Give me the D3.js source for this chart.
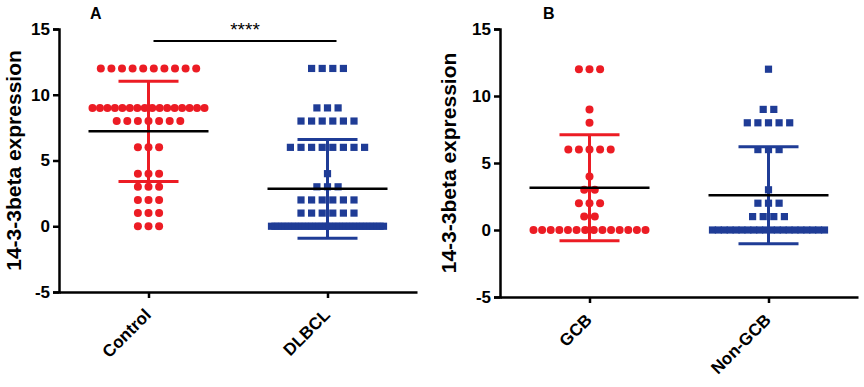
<!DOCTYPE html>
<html><head><meta charset="utf-8">
<script src="https://cdn.jsdelivr.net/npm/d3@7"></script>
<style>
body{margin:0;background:#fff;}
svg{display:block;font-family:"Liberation Sans",Arial,sans-serif;}
</style></head>
<body><svg id="c" width="864" height="387"></svg>
<script>
// ---- data (each row = value, count) ----
const yTicks = [15, 10, 5, 0, -5];
const yTitle = "14-3-3beta expression";
const panelA = ["Control", "DLBCL"];
const panelB = ["GCB", "Non-GCB"];
const controlRows = [[12,10],[9,16],[8,7],[6,3],[4,3],[3,3],[2,3],[1,3],[0,3]];
const dlbclRows   = [[12,4],[9,3],[8,6],[6,8],[4,1],[3,3],[2,6],[1,6],[0,34]];
const gcbRows     = [[12,3],[9,1],[8,1],[6,5],[4,1],[3,2],[2,3],[1,2],[0,14]];
const nonGcbRows  = [[12,1],[9,2],[8,5],[6,3],[3,1],[2,3],[1,4],[0,20]];
const sigLabel = "****";

const RED = "#ec1c24", BLUE = "#1f3c96";
const svg = d3.select("#c");

function expand(rows){ const v=[]; rows.forEach(([val,n])=>{for(let i=0;i<n;i++)v.push(val);}); return v; }

function panel(opt){
  const g = svg.append("g");
  const y = d3.scaleLinear().domain([-5,15]).range([opt.yBottom, opt.yTop]);
  const x = d3.scalePoint().domain(opt.cats).range([opt.x0, opt.x1]).padding(0.5);

  // y axis
  const ya = g.append("g").attr("transform",`translate(${opt.x0},0)`)
    .call(d3.axisLeft(y).tickValues(yTicks).tickSize(6).tickPadding(3).tickFormat(d=>String(d)));
  ya.select(".domain").attr("stroke","#000").attr("stroke-width",2.5);
  ya.selectAll(".tick line").attr("stroke","#000").attr("stroke-width",2.5);
  ya.selectAll(".tick text").attr("font-size",17).attr("font-weight","bold").attr("fill","#000")
    .attr("font-family","Liberation Sans, Arial, sans-serif");

  // x axis
  const xa = g.append("g").attr("transform",`translate(0,${opt.yBottom})`)
    .call(d3.axisBottom(x).tickSize(6).tickSizeOuter(0));
  xa.select(".domain").attr("stroke","#000").attr("stroke-width",2.5);
  xa.selectAll(".tick line").attr("stroke","#000").attr("stroke-width",2.5);
  xa.selectAll(".tick text").attr("font-size",17).attr("font-weight","bold").attr("fill","#000")
    .attr("font-family","Liberation Sans, Arial, sans-serif")
    .attr("text-anchor","end").attr("dy",0).attr("y",0)
    .attr("transform","translate(3,24) rotate(-45)");

  // y title
  g.append("text").attr("transform",`translate(${opt.titleX},${(opt.yTop+opt.yBottom)/2}) rotate(-90)`)
    .attr("text-anchor","middle").attr("font-size",21).attr("font-weight","bold").text(yTitle);

  // panel letter
  g.append("text").attr("x",opt.letterX).attr("y",19).attr("font-size",16).attr("font-weight","bold").text(opt.letter);

  // groups
  opt.series.forEach((rows,i)=>{
    const cx = x(opt.cats[i]);
    const color = i===0 ? RED : BLUE;
    const vals = expand(rows);
    const pts = [];
    rows.forEach(([val,n])=>{
      const step = n>1 ? Math.min(10.6, 112/(n-1)) : 0;
      for(let k=0;k<n;k++) pts.push({x: cx + (k-(n-1)/2)*step, y: y(val)});
    });
    if(i===0){
      g.append("g").selectAll("circle").data(pts).join("circle")
        .attr("cx",d=>d.x).attr("cy",d=>d.y).attr("r",4).attr("fill",color);
    } else {
      g.append("g").selectAll("rect").data(pts).join("rect")
        .attr("x",d=>d.x-3.6).attr("y",d=>d.y-3.6).attr("width",7.2).attr("height",7.2).attr("fill",color);
    }
    const m = d3.mean(vals), sd = d3.deviation(vals);
    const eb = g.append("g").attr("stroke",color).attr("stroke-width",3);
    eb.append("line").attr("x1",cx).attr("x2",cx).attr("y1",y(m+sd)).attr("y2",y(m-sd));
    eb.append("line").attr("x1",cx-30).attr("x2",cx+30).attr("y1",y(m+sd)).attr("y2",y(m+sd));
    eb.append("line").attr("x1",cx-30).attr("x2",cx+30).attr("y1",y(m-sd)).attr("y2",y(m-sd));
    g.append("line").attr("x1",cx-60).attr("x2",cx+60).attr("y1",y(m)).attr("y2",y(m))
      .attr("stroke","#000").attr("stroke-width",2.5);
  });

  if(opt.sig){
    const xa1 = x(opt.cats[0])+5, xa2 = x(opt.cats[1])+9;
    g.append("line").attr("x1",xa1).attr("x2",xa2).attr("y1",41).attr("y2",41).attr("stroke","#000").attr("stroke-width",2);
    g.append("text").attr("x",(xa1+xa2)/2).attr("y",36).attr("text-anchor","middle").attr("font-size",19).text(sigLabel);
  }
}

panel({cats: panelA, series:[controlRows, dlbclRows], x0:59, x1:417, yTop:29, yBottom:292,
       titleX:21, letter:"A", letterX:90, sig:true});
panel({cats: panelB, series:[gcbRows, nonGcbRows], x0:500, x1:858, yTop:29, yBottom:297,
       titleX:456, letter:"B", letterX:543, sig:false});
</script></body></html>
